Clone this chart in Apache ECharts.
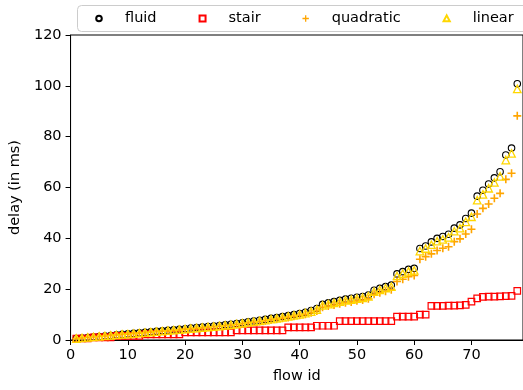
<!DOCTYPE html>
<html>
<head>
<meta charset="utf-8">
<script src="https://cdn.jsdelivr.net/npm/echarts@6/dist/echarts.min.js"></script>
<style>
  html, body { margin: 0; padding: 0; background: #fff; }
  #chart { width: 523px; height: 390px; }
</style>
</head>
<body>
<div id="chart"></div>
<script>
// Flow identifiers (x axis)
const flowIds = [
  1, 2, 3, 4, 5, 6, 7, 8, 9, 10, 11, 12, 13, 14, 15, 16, 17, 18, 19, 20,
  21, 22, 23, 24, 25, 26, 27, 28, 29, 30, 31, 32, 33, 34, 35, 36, 37, 38, 39, 40,
  41, 42, 43, 44, 45, 46, 47, 48, 49, 50, 51, 52, 53, 54, 55, 56, 57, 58, 59, 60,
  61, 62, 63, 64, 65, 66, 67, 68, 69, 70, 71, 72, 73, 74, 75, 76, 77, 78
];

// Delay per flow (ms) for each model
const fluidDelay = [
  0.6, 0.8, 1.0, 1.2, 1.4, 1.6, 1.8, 2.0, 2.2, 2.4, 2.6, 2.8, 3.0, 3.2, 3.4, 3.6, 3.8, 4.0, 4.2, 4.4,
  4.7, 4.9, 5.1, 5.3, 5.5, 5.7, 6.0, 6.2, 6.5, 6.8, 7.2, 7.5, 7.8, 8.1, 8.5, 8.8, 9.2, 9.6, 10.0, 10.4,
  10.9, 11.6, 12.4, 14.0, 14.6, 15.1, 15.6, 16.1, 16.4, 16.8, 17.1, 17.7, 19.6, 20.3, 21.0, 21.6, 26.0, 26.9, 27.8, 28.2,
  36.0, 37.0, 38.6, 40.0, 40.7, 41.6, 44.0, 45.3, 47.8, 49.9, 56.6, 58.9, 61.4, 63.8, 66.2, 72.8, 75.5, 100.8
];

const stairDelay = [
  0.6, 0.6, 0.6, 1.0, 1.0, 1.0, 1.0, 1.6, 1.6, 1.6, 1.6, 1.6, 2.2, 2.2, 2.2, 2.2, 2.2, 2.2, 2.2, 3.0,
  3.0, 3.0, 3.0, 3.0, 3.0, 3.0, 3.0, 3.0, 3.8, 3.8, 3.8, 3.8, 3.8, 3.8, 3.8, 3.8, 3.8, 5.0, 5.0, 5.0,
  5.0, 5.0, 5.6, 5.6, 5.6, 5.6, 7.4, 7.4, 7.4, 7.4, 7.4, 7.4, 7.4, 7.4, 7.4, 7.4, 9.2, 9.2, 9.2, 9.2,
  10.0, 10.0, 13.4, 13.4, 13.4, 13.5, 13.5, 13.6, 13.8, 15.1, 16.4, 17.0, 17.1, 17.1, 17.2, 17.3, 17.4, 19.3
];

const quadraticDelay = [
  0.6, 0.8, 1.0, 1.2, 1.4, 1.6, 1.8, 2.0, 2.2, 2.3, 2.5, 2.7, 2.9, 3.1, 3.3, 3.5, 3.6, 3.8, 4.0, 4.2,
  4.4, 4.6, 4.8, 5.0, 5.2, 5.4, 5.6, 5.8, 6.1, 6.4, 6.7, 7.0, 7.3, 7.6, 7.9, 8.2, 8.6, 8.9, 9.3, 9.7,
  10.1, 10.7, 11.4, 12.9, 13.4, 13.8, 14.3, 14.7, 15.0, 15.4, 15.7, 16.2, 18.0, 18.6, 19.2, 19.8, 23.0, 23.9, 24.9, 25.4,
  31.8, 32.8, 33.9, 35.2, 36.1, 36.7, 38.7, 39.8, 41.7, 43.6, 49.6, 51.8, 53.5, 55.8, 57.7, 63.2, 65.6, 88.2
];

const linearDelay = [
  0.6, 0.8, 1.0, 1.2, 1.4, 1.6, 1.8, 2.0, 2.2, 2.3, 2.5, 2.7, 2.9, 3.1, 3.3, 3.5, 3.7, 3.9, 4.1, 4.3,
  4.5, 4.7, 4.9, 5.1, 5.3, 5.5, 5.8, 6.0, 6.3, 6.6, 6.9, 7.2, 7.5, 7.8, 8.2, 8.5, 8.9, 9.3, 9.7, 10.1,
  10.6, 11.2, 12.0, 13.6, 14.1, 14.6, 15.1, 15.6, 15.9, 16.3, 16.6, 17.2, 19.0, 19.7, 20.4, 21.0, 25.2, 26.1, 27.0, 27.4,
  35.0, 36.0, 37.5, 38.9, 39.6, 40.4, 42.8, 44.0, 46.5, 48.5, 55.0, 57.3, 59.7, 62.0, 64.4, 70.8, 73.4, 98.8
];

const seriesNames = ['fluid', 'stair', 'quadratic', 'linear'];
const xTickStep = 10;
const yTicks = { min: 0, max: 120, step: 20 };

const FONT = 'DejaVu Sans';
const plusPath = 'path://M4,0H6V4H10V6H6V10H4V6H0V4H4Z';

// Legend icons: a small marker centred in a 42x8 box (the leading moves fix the box size)
const BOX = 'M0,0M42,8';
const legendIcons = {
  fluid: 'path://' + BOX + 'M23.8,4A2.8,2.8,0,1,1,18.2,4A2.8,2.8,0,1,1,23.8,4Z',
  stair: 'path://' + BOX + 'M18,1H24V7H18Z',
  quadratic: 'path://' + BOX + 'M20.35,0.8H21.65V3.35H24.2V4.65H21.65V7.2H20.35V4.65H17.8V3.35H20.35Z',
  linear: 'path://' + BOX + 'M21,0.9L24.1,6.8L17.9,6.8Z'
};

function pairs(values) {
  return flowIds.map((id, i) => [id, values[i]]);
}

const chart = echarts.init(document.getElementById('chart'), null, { renderer: 'canvas' });

chart.setOption({
  animation: false,
  backgroundColor: '#ffffff',
  textStyle: { fontFamily: FONT },
  grid: {
    left: 70, top: 35, bottom: 50, right: -5,
    show: true, borderColor: '#000', borderWidth: 1, backgroundColor: 'transparent'
  },
  // Legend frame, running past the right edge of the canvas
  graphic: [{
    type: 'rect', z: 1, silent: true,
    shape: { x: 77.5, y: 5.5, width: 470, height: 26, r: 4 },
    style: { fill: 'rgba(255,255,255,0.8)', stroke: '#cccccc', lineWidth: 1 }
  }],
  legend: {
    left: 77, top: 5, width: 520,
    orient: 'horizontal',
    padding: [6, 0, 6, 0],
    itemWidth: 42, itemHeight: 8, itemGap: 24,
    textStyle: { fontFamily: FONT, fontSize: 14.5, color: '#000' },
    data: seriesNames.map(n => ({ name: n, icon: legendIcons[n] }))
  },
  xAxis: {
    type: 'value',
    min: 0, max: 79, interval: xTickStep,
    name: 'flow id', nameLocation: 'middle', nameGap: 29,
    nameTextStyle: { fontFamily: FONT, fontSize: 14.5, color: '#000' },
    axisLine: { show: true, lineStyle: { color: '#000', width: 1 } },
    axisTick: { show: true, length: 5, lineStyle: { color: '#000', width: 1 } },
    axisLabel: { fontFamily: FONT, fontSize: 14.5, color: '#000', margin: 8, showMaxLabel: false },
    splitLine: { show: false }
  },
  yAxis: {
    type: 'value',
    min: yTicks.min, max: yTicks.max, interval: yTicks.step,
    name: 'delay (in ms)', nameLocation: 'middle', nameGap: 42, nameRotate: 90,
    nameTextStyle: { fontFamily: FONT, fontSize: 14.5, color: '#000' },
    axisLine: { show: true, lineStyle: { color: '#000', width: 1 } },
    axisTick: { show: true, length: 5, lineStyle: { color: '#000', width: 1 } },
    axisLabel: { fontFamily: FONT, fontSize: 14.5, color: '#000', margin: 9 },
    splitLine: { show: false }
  },
  series: [
    {
      name: 'fluid', type: 'scatter', data: pairs(fluidDelay),
      symbol: 'circle', symbolSize: 6.5,
      itemStyle: { color: 'rgba(255,255,255,0)', borderColor: '#000', borderWidth: 1.1, opacity: 1 },
      z: 2
    },
    {
      name: 'stair', type: 'scatter', data: pairs(stairDelay),
      symbol: 'rect', symbolSize: 6.5,
      itemStyle: { color: 'rgba(255,255,255,0)', borderColor: '#ff0000', borderWidth: 1.2, opacity: 1 },
      z: 3
    },
    {
      name: 'quadratic', type: 'scatter', data: pairs(quadraticDelay),
      symbol: plusPath, symbolSize: 8,
      itemStyle: { color: '#ffa500', borderWidth: 0, opacity: 1 },
      z: 4
    },
    {
      name: 'linear', type: 'scatter', data: pairs(linearDelay),
      symbol: 'triangle', symbolSize: 7.5,
      itemStyle: { color: 'rgba(255,255,255,0)', borderColor: '#ffd700', borderWidth: 1.3, opacity: 1 },
      z: 5
    }
  ]
});
</script>
</body>
</html>
